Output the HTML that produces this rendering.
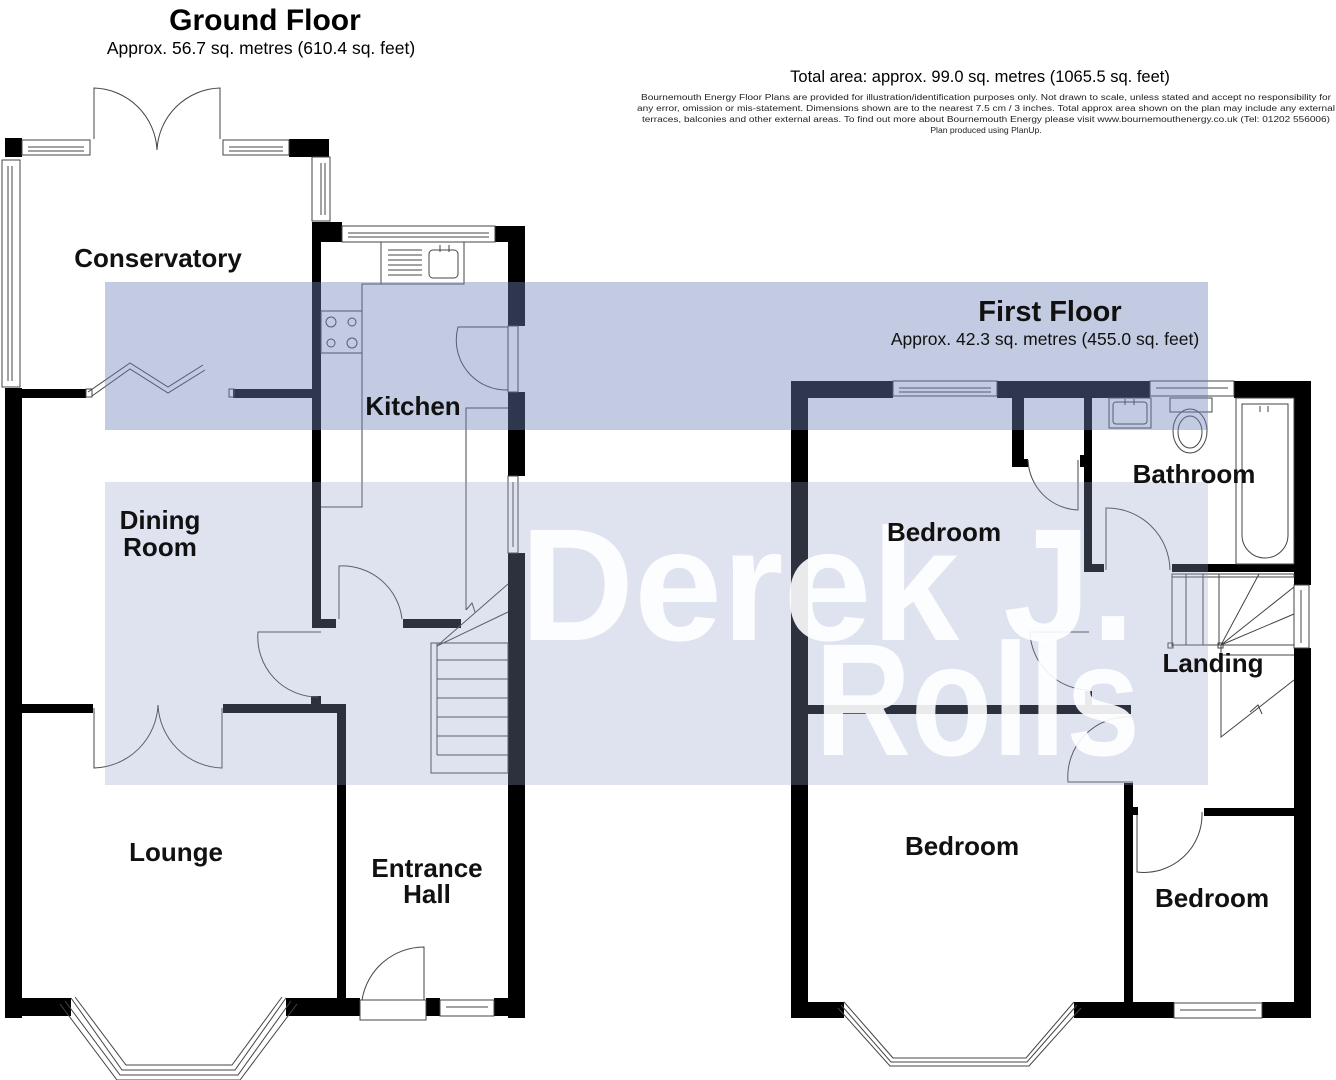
<!DOCTYPE html>
<html><head><meta charset="utf-8"><style>
html,body{margin:0;padding:0;background:#fff;}
svg{display:block;font-family:"Liberation Sans",Arial,sans-serif;}
</style></head><body>
<svg width="1336" height="1080" viewBox="0 0 1336 1080" xmlns="http://www.w3.org/2000/svg">
<rect width="1336" height="1080" fill="#fff"/>
<!-- headings -->
<text x="265" y="30" font-size="30" font-weight="bold" text-anchor="middle">Ground Floor</text>
<text x="261" y="54" font-size="17.5" text-anchor="middle">Approx. 56.7 sq. metres (610.4 sq. feet)</text>
<text x="980" y="82" font-size="16.5" text-anchor="middle">Total area: approx. 99.0 sq. metres (1065.5 sq. feet)</text>
<g font-size="8.6" text-anchor="middle" fill="#222">
<text x="986" y="100" textLength="690" lengthAdjust="spacingAndGlyphs">Bournemouth Energy Floor Plans are provided for illustration/identification purposes only. Not drawn to scale, unless stated and accept no responsibility for</text>
<text x="986" y="111" textLength="698" lengthAdjust="spacingAndGlyphs">any error, omission or mis-statement. Dimensions shown are to the nearest 7.5 cm / 3 inches. Total approx area shown on the plan may include any external</text>
<text x="986" y="122" textLength="688" lengthAdjust="spacingAndGlyphs">terraces, balconies and other external areas. To find out more about Bournemouth Energy please visit www.bournemouthenergy.co.uk (Tel: 01202 556006)</text>
<text x="986" y="133">Plan produced using PlanUp.</text>
</g>

<!-- ============ GROUND FLOOR ============ -->
<g fill="#000">
<rect x="5" y="138" width="17" height="19"/>
<rect x="289" y="139" width="40" height="18"/>
<rect x="5" y="388" width="17" height="630"/>
<rect x="22" y="389" width="64" height="9"/>
<rect x="233" y="389" width="80" height="9"/>
<rect x="312" y="222" width="30" height="20"/>
<rect x="312" y="222" width="9" height="406"/>
<rect x="495" y="226" width="30" height="16"/>
<rect x="508" y="226" width="17" height="100"/>
<rect x="508" y="392" width="17" height="84"/>
<rect x="508" y="553" width="17" height="465"/>
<rect x="321" y="619" width="15" height="9"/>
<rect x="403" y="619" width="58" height="9"/>
<rect x="22" y="704" width="71" height="9"/>
<rect x="223" y="704" width="123" height="9"/>
<rect x="311" y="696" width="10" height="9"/>
<rect x="337" y="704" width="9" height="296"/>
<rect x="5" y="998" width="66" height="18"/>
<rect x="286" y="998" width="74" height="18"/>
<rect x="426" y="998" width="14" height="18"/>
<rect x="494" y="998" width="31" height="18"/>
</g>
<g fill="#fff" stroke="#444" stroke-width="1">
<rect x="22" y="140" width="68" height="15"/><line x1="28" y1="147" x2="84" y2="147"/><line x1="28" y1="151" x2="84" y2="151"/>
<rect x="223" y="140" width="66" height="15"/><line x1="229" y1="147" x2="283" y2="147"/><line x1="229" y1="151" x2="283" y2="151"/>
<rect x="312" y="157" width="18" height="64"/><line x1="321" y1="163" x2="321" y2="215"/><line x1="325" y1="163" x2="325" y2="215"/>
<rect x="2" y="160" width="18" height="227"/><line x1="8" y1="166" x2="8" y2="381"/><line x1="12" y1="166" x2="12" y2="381"/>
<rect x="342" y="226" width="153" height="16"/><line x1="348" y1="233" x2="489" y2="233"/><line x1="348" y1="237" x2="489" y2="237"/>
<rect x="508" y="476" width="10" height="77"/><line x1="513" y1="482" x2="513" y2="547"/>
<rect x="508" y="326" width="10" height="66"/>
<rect x="440" y="1000" width="54" height="16"/><line x1="446" y1="1007" x2="488" y2="1007"/>
<rect x="360" y="1000" width="66" height="20"/>
</g>
<g fill="none" stroke="#444" stroke-width="1">
<path d="M94 139 V88 A65 65 0 0 1 157 150 M220 139 V88 A65 65 0 0 0 157 150"/>
<path d="M88 392 L130 363 L168 387 L203 365"/>
<path d="M92 396 L130 369 L168 393 L205 370"/>
<rect x="86" y="389" width="6" height="8"/><rect x="229" y="389" width="5" height="8"/>
<rect x="381" y="242" width="83" height="42"/>
<line x1="388" y1="250" x2="422" y2="250"/><line x1="388" y1="255" x2="422" y2="255"/><line x1="388" y1="260" x2="422" y2="260"/><line x1="388" y1="265" x2="422" y2="265"/><line x1="388" y1="270" x2="422" y2="270"/><line x1="388" y1="275" x2="422" y2="275"/>
<rect x="429" y="250" width="29" height="28" rx="4"/>
<line x1="440" y1="245" x2="440" y2="252"/><line x1="449" y1="245" x2="449" y2="252"/>
<path d="M464 284 H362 V507 H321"/>
<rect x="321" y="311" width="41" height="42"/>
<circle cx="331" cy="322" r="5"/><circle cx="352" cy="322" r="4"/><circle cx="331" cy="343" r="4"/><circle cx="352" cy="343" r="5"/>
<path d="M508 408 H466 V610"/>
<path d="M508 327 H458 A50 50 0 0 0 508 390"/>
<path d="M339 619 V566 A60 60 0 0 1 402 619"/>
<path d="M321 632 H258 A60 60 0 0 0 318 697"/>
<path d="M94 708 V768 A66 66 0 0 0 158 705 A66 66 0 0 0 222 768 V708"/>
<rect x="431" y="643" width="77" height="130"/>
<line x1="437" y1="643" x2="437" y2="755"/>
<line x1="437" y1="660" x2="508" y2="660"/><line x1="437" y1="679" x2="508" y2="679"/><line x1="437" y1="698" x2="508" y2="698"/><line x1="437" y1="717" x2="508" y2="717"/><line x1="437" y1="736" x2="508" y2="736"/><line x1="437" y1="755" x2="508" y2="755"/>
<path d="M437 646 L508 612 M437 646 L508 584 M466 610 L472 603 L475 612"/>
<path d="M424 1000 V947 A63 63 0 0 0 362 1000"/>
<path d="M71 998 L122 1070 H235 L286 998"/>
<path d="M60 1004 L117 1080 H240 L297 1004"/>
<path d="M65 1001 L120 1075 H238 L291 1001"/>
<path d="M75 997 L126 1065 H232 L282 997"/>
</g>

<!-- ============ FIRST FLOOR ============ -->
<g fill="#000">
<rect x="791" y="381" width="102" height="17"/>
<rect x="997" y="381" width="153" height="17"/>
<rect x="1234" y="381" width="77" height="17"/>
<rect x="791" y="381" width="17" height="637"/>
<rect x="1294" y="381" width="17" height="204"/>
<rect x="1294" y="648" width="17" height="370"/>
<rect x="791" y="1002" width="53" height="16"/>
<rect x="1074" y="1002" width="100" height="16"/>
<rect x="1262" y="1002" width="49" height="16"/>
<rect x="1012" y="398" width="12" height="69"/>
<rect x="1012" y="459" width="16" height="8"/>
<rect x="1080" y="455" width="8" height="12"/>
<rect x="1084" y="398" width="8" height="174"/>
<rect x="1092" y="564" width="12" height="8"/>
<rect x="1172" y="564" width="122" height="8"/>
<rect x="808" y="705" width="323" height="9"/>
<rect x="1085" y="691" width="7" height="16"/>
<rect x="1124" y="783" width="9" height="219"/>
<rect x="1133" y="807" width="5" height="8"/>
<rect x="1204" y="808" width="90" height="8"/>
</g>
<g fill="#fff" stroke="#444" stroke-width="1">
<rect x="893" y="381" width="104" height="15"/><line x1="899" y1="388" x2="991" y2="388"/><line x1="899" y1="392" x2="991" y2="392"/>
<rect x="1150" y="381" width="84" height="15"/><line x1="1156" y1="388" x2="1228" y2="388"/>
<rect x="1294" y="585" width="15" height="63"/><line x1="1301" y1="590" x2="1301" y2="643"/>
<rect x="1174" y="1003" width="88" height="15"/><line x1="1180" y1="1010" x2="1256" y2="1010"/>
</g>
<g fill="none" stroke="#444" stroke-width="1">
<rect x="1109" y="398" width="42" height="30"/><rect x="1113" y="402" width="34" height="22" rx="3"/>
<line x1="1125" y1="399" x2="1125" y2="405"/><line x1="1134" y1="399" x2="1134" y2="405"/>
<rect x="1170" y="398" width="42" height="14"/>
<ellipse cx="1190" cy="431" rx="17" ry="22"/><ellipse cx="1190" cy="432" rx="12" ry="16"/>
<rect x="1236" y="398" width="58" height="166"/>
<path d="M1242 404 H1288 V535 A23 23 0 0 1 1242 535 Z"/>
<line x1="1260" y1="406" x2="1260" y2="412"/><line x1="1268" y1="406" x2="1268" y2="412"/>
<path d="M1028 460 A52 52 0 0 0 1078 510 V460"/>
<path d="M1106 570 V508 A63 63 0 0 1 1170 570"/>
<path d="M1089 632 H1030 A60 60 0 0 0 1089 690"/>
<path d="M1131 717 A60 60 0 0 0 1068 782 H1133"/>
<path d="M1137 815 V872 A58 58 0 0 0 1202 812"/>
<rect x="1172" y="574" width="122" height="3"/>
<line x1="1172" y1="574" x2="1172" y2="647"/><line x1="1186" y1="574" x2="1186" y2="645"/><line x1="1203" y1="574" x2="1203" y2="645"/><line x1="1219" y1="574" x2="1219" y2="645"/>
<line x1="1172" y1="645" x2="1221" y2="645"/>
<path d="M1221 645 L1259 574 M1221 645 L1294 587 M1221 645 L1294 614 M1221 645 H1294 M1221 655 H1294 M1221 645 V737 L1294 680 M1250 712 L1258 705 L1262 714"/>
<rect x="1218" y="643" width="5" height="5"/><rect x="1168" y="643" width="5" height="5"/>
<path d="M844 1002 L893 1058 H1026 L1074 1002"/>
<path d="M838 1008 L890 1066 H1029 L1081 1008"/>
<path d="M841 1005 L891 1062 H1027 L1077 1005"/>
</g>

<!-- watermark band -->
<rect x="105" y="282" width="1103" height="148" fill="rgba(110,130,185,0.42)"/>
<rect x="105" y="482" width="1103" height="303" fill="rgba(150,162,205,0.3)"/>
<g fill="#fff" fill-opacity="0.9" font-weight="bold" font-size="160">
<text x="520" y="640" textLength="615" lengthAdjust="spacingAndGlyphs">Derek J.</text>
<text x="815" y="755" textLength="325" lengthAdjust="spacingAndGlyphs">Rolls</text>
</g>

<text x="1050" y="321" font-size="29" font-weight="bold" text-anchor="middle" fill="#111">First Floor</text>
<text x="1045" y="345" font-size="17.5" text-anchor="middle" fill="#111">Approx. 42.3 sq. metres (455.0 sq. feet)</text>

<!-- room labels -->
<g font-size="26" font-weight="bold" fill="#111" text-anchor="middle">
<text x="158" y="267">Conservatory</text>
<text x="413" y="415">Kitchen</text>
<text x="160" y="529">Dining</text>
<text x="160" y="556">Room</text>
<text x="176" y="861">Lounge</text>
<text x="427" y="877">Entrance</text>
<text x="427" y="903">Hall</text>
<text x="1194" y="483">Bathroom</text>
<text x="944" y="541">Bedroom</text>
<text x="1213" y="672">Landing</text>
<text x="962" y="855">Bedroom</text>
<text x="1212" y="907">Bedroom</text>
</g>
</svg>
</body></html>
